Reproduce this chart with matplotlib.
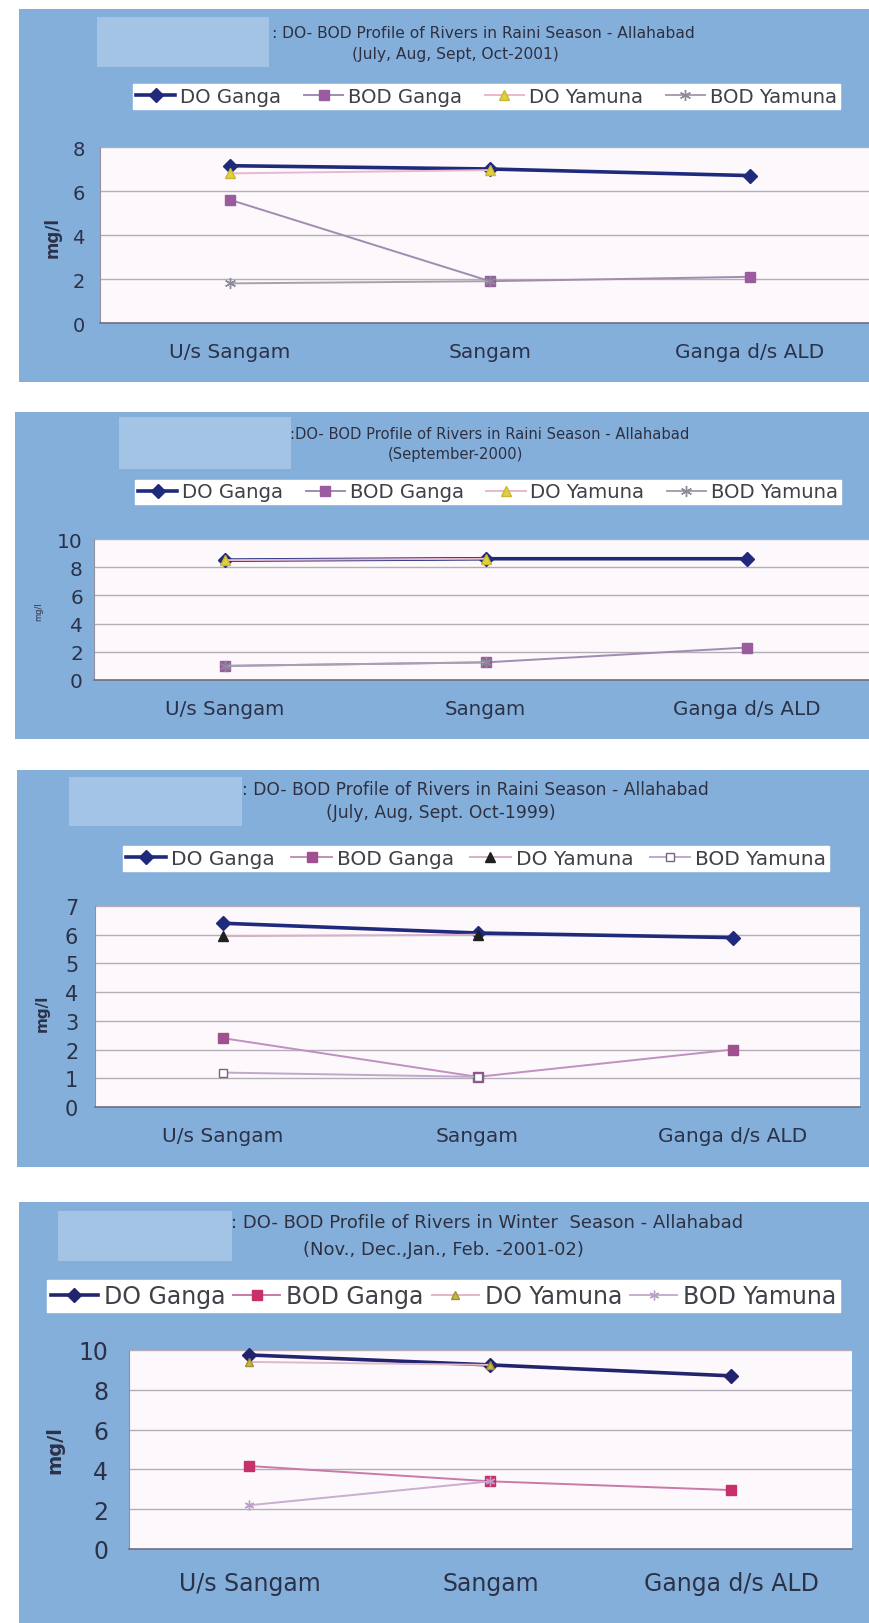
""" DO / BOD profiles of the Ganga and Yamuna around Sangam, Allahabad
"""
import numpy as np
import matplotlib.pyplot as plt
from matplotlib.patches import Rectangle

plt.rcParams['font.family'] = ['DejaVu Sans']

W, H = 869, 1624

sites = ['U/s Sangam', 'Sangam', 'Ganga d/s ALD']
series_names = ['DO Ganga', 'BOD Ganga', 'DO Yamuna', 'BOD Yamuna']

# Rainy season, July-Oct 2001
do_ganga_2001 = [7.15, 7.0, 6.7]
bod_ganga_2001 = [5.6, 1.9, 2.1]
do_yamuna_2001 = [6.8, 6.95, np.nan]
bod_yamuna_2001 = [1.8, 1.9, np.nan]

# Rainy season, September 2000
do_ganga_2000 = [8.5, 8.6, 8.6]
bod_ganga_2000 = [1.0, 1.25, 2.3]
do_yamuna_2000 = [8.5, 8.6, np.nan]
bod_yamuna_2000 = [1.0, 1.25, np.nan]

# Rainy season, July-Oct 1999
do_ganga_1999 = [6.4, 6.06, 5.9]
bod_ganga_1999 = [2.4, 1.05, 2.0]
do_yamuna_1999 = [5.95, 6.0, np.nan]
bod_yamuna_1999 = [1.2, 1.05, np.nan]

# Winter season, Nov-Feb 2001-02
do_ganga_w02 = [9.75, 9.25, 8.7]
bod_ganga_w02 = [4.17, 3.4, 2.96]
do_yamuna_w02 = [9.4, 9.25, np.nan]
bod_yamuna_w02 = [2.2, 3.4, np.nan]

BLUE = '#85afdb'
PATCH = '#a4c4e6'
PLOT_BG = '#fdf8fb'
TXT = '#2b3248'

# line styles per series
std_styles = [
    dict(color='#1f2a7c', lw=2.6, marker='D', ms=7, mfc='#1f2a7c', mec='#1f2a7c'),
    dict(color='#a08cb0', lw=1.4, marker='s', ms=7, mfc='#9a5c9e', mec='#9a5c9e'),
    dict(color='#e8b8d0', lw=1.4, marker='^', ms=7, mfc='#e0d040', mec='#c8b830'),
    dict(color='#a8a0b0', lw=1.4, marker=(6, 2, 0), ms=8, mfc='#8a8a98', mec='#8a8a98'),
]
styles_1999 = [
    dict(color='#1f2a7c', lw=2.6, marker='D', ms=7, mfc='#1f2a7c', mec='#1f2a7c'),
    dict(color='#c090c0', lw=1.4, marker='s', ms=7, mfc='#a0508e', mec='#a0508e'),
    dict(color='#d8b0c8', lw=1.4, marker='^', ms=7, mfc='#202020', mec='#202020'),
    dict(color='#c0a8cc', lw=1.4, marker='s', ms=6, mfc='white', mec='#706880'),
]
styles_w02 = [
    dict(color='#23246e', lw=2.6, marker='D', ms=7, mfc='#23246e', mec='#23246e'),
    dict(color='#c87aa8', lw=1.4, marker='s', ms=7, mfc='#c8306a', mec='#c8306a'),
    dict(color='#e0b8cc', lw=1.4, marker='^', ms=6, mfc='#c8b840', mec='#a09030'),
    dict(color='#c8aed0', lw=1.4, marker=(6, 2, 0), ms=7, mfc='#b8a0c8', mec='#b8a0c8'),
]

fig = plt.figure(figsize=(W / 100, H / 100), dpi=100, facecolor='white')


def rect(x0, y0, x1, y1, color, z):
    fig.patches.append(Rectangle((x0 / W, 1 - y1 / H), (x1 - x0) / W, (y1 - y0) / H,
                                 transform=fig.transFigure, facecolor=color,
                                 edgecolor='none', zorder=z))


def draw_panel(box, patch, title, sub, tpos, leg, axbox, ymax, ystep, data, styles,
               tsize, lsize, xsize, ysize, ypad, ylab):
    rect(*box, BLUE, -10)
    rect(*patch, PATCH, -9)
    # titles
    fig.text(tpos[0] / W, 1 - tpos[1] / H, title, ha='left', va='center',
             size=tsize, color='#2e3040')
    fig.text(tpos[2] / W, 1 - tpos[3] / H, sub, ha='center', va='center',
             size=tsize, color='#2e3040')

    x0, y0, x1, y1 = axbox
    ax = fig.add_axes([x0 / W, 1 - y1 / H, (x1 - x0) / W, (y1 - y0) / H])
    ax.set_facecolor(PLOT_BG)
    handles = []
    xs = np.arange(len(sites))
    for vals, st in zip(data, styles):
        h, = ax.plot(xs, vals, color=st['color'], lw=st['lw'], marker=st['marker'],
                     ms=st['ms'], mfc=st['mfc'], mec=st['mec'], clip_on=False)
        handles.append(h)
    ax.set_xlim(-0.5, 2.5)
    ax.set_ylim(0, ymax)
    ax.set_yticks(np.arange(0, ymax + 0.01, ystep))
    ax.yaxis.grid(True, color='#b4acb6', lw=1)
    ax.set_axisbelow(True)
    ax.set_xticks([])
    ax.tick_params(axis='y', length=0, pad=ypad, labelsize=ysize, labelcolor=TXT)
    for s in ['top', 'right']:
        ax.spines[s].set_visible(False)
    ax.spines['left'].set_color('#9090a0')
    ax.spines['bottom'].set_color('#707080')
    ax.spines['bottom'].set_linewidth(1.2)

    # category labels below the axis
    hpx = y1 - y0
    for i, s in enumerate(sites):
        ax.text(i, -xsize * 2.0 / hpx, s, transform=ax.get_xaxis_transform(),
                ha='center', va='center', size=xsize, color=TXT, clip_on=False)

    # y axis title
    fig.text(ylab[0] / W, 1 - ylab[1] / H, 'mg/l', rotation=90, ha='center',
             va='center', size=ylab[2], color=TXT,
             weight='bold' if ylab[3] else 'normal')

    lx0, ly0, lx1, ly1 = leg
    ax.legend(handles, series_names, ncol=4, mode='expand', loc='center',
              bbox_to_anchor=(lx0 / W, 1 - ly1 / H, (lx1 - lx0) / W, (ly1 - ly0) / H),
              bbox_transform=fig.transFigure, fontsize=lsize, frameon=True,
              fancybox=False, facecolor='white', edgecolor='white', framealpha=1,
              borderaxespad=0, borderpad=0.15, handlelength=2.0, handletextpad=0.25,
              columnspacing=0.4, labelcolor='#404048')
    return ax


draw_panel((19, 10, 869, 383), (97, 18, 269, 68),
           ': DO- BOD Profile of Rivers in Raini Season - Allahabad',
           '(July, Aug, Sept, Oct-2001)', (272, 33, 455, 55),
           (133, 82, 840, 113), (100, 148, 880, 324), 8, 2,
           [do_ganga_2001, bod_ganga_2001, do_yamuna_2001, bod_yamuna_2001], std_styles,
           11.2, 14.2, 14.5, 14, 11, (53, 237, 12, True))

draw_panel((15, 413, 869, 740), (119, 418, 291, 470),
           ':DO- BOD Profile of Rivers in Raini Season - Allahabad',
           '(September-2000)', (290, 435, 455, 455),
           (135, 478, 841, 508), (94, 540, 877, 681), 10, 2,
           [do_ganga_2000, bod_ganga_2000, do_yamuna_2000, bod_yamuna_2000], std_styles,
           10.6, 14.2, 14.3, 14.5, 8, (39, 612, 6, False))

draw_panel((17, 771, 869, 1168), (69, 778, 242, 827),
           ': DO- BOD Profile of Rivers in Raini Season - Allahabad',
           '(July, Aug, Sept. Oct-1999)', (242, 790, 441, 813),
           (123, 844, 829, 875), (95, 907, 860, 1108), 7, 1,
           [do_ganga_1999, bod_ganga_1999, do_yamuna_1999, bod_yamuna_1999], styles_1999,
           12.3, 14.5, 14.5, 15, 12, (42, 1013, 11, True))

draw_panel((19, 1203, 869, 1624), (58, 1212, 232, 1262),
           ': DO- BOD Profile of Rivers in Winter  Season - Allahabad',
           '(Nov., Dec.,Jan., Feb. -2001-02)', (231, 1223, 443, 1250),
           (47, 1279, 840, 1315), (129, 1351, 852, 1550), 10, 2,
           [do_ganga_w02, bod_ganga_w02, do_yamuna_w02, bod_yamuna_w02], styles_w02,
           13.0, 17, 17, 17, 15, (55, 1450, 14, True))

fig.savefig('out.png', dpi=100, facecolor='white')
